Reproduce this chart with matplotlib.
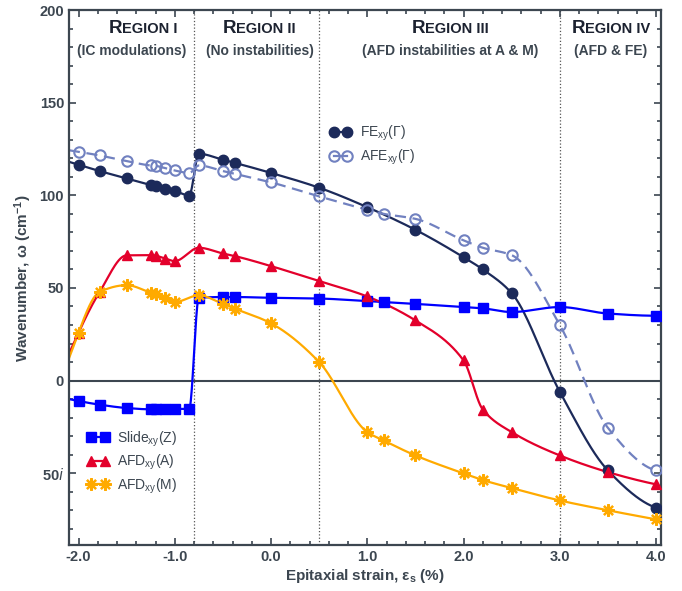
import numpy as np
import matplotlib
matplotlib.use("Agg")
import matplotlib.pyplot as plt
from matplotlib.lines import Line2D
from matplotlib.offsetbox import TextArea, HPacker, AnnotationBbox
from matplotlib.ticker import MultipleLocator, FixedLocator, FixedFormatter

plt.rcParams["font.family"] = ["Liberation Sans", "DejaVu Sans"]
plt.rcParams["mathtext.default"] = "regular"

# --- data (strain in %, wavenumber in cm^-1, negative = imaginary)
x_fe = [-2.0, -1.78, -1.5, -1.25, -1.2, -1.1, -1.0, -0.85,
        -0.75, -0.5, -0.375, 0.0, 0.5, 1.0, 1.5, 2.0, 2.2, 2.5, 3.0, 3.5, 4.0]
fe = [116.5, 113.1, 109.1, 105.5, 104.8, 103.5, 102.3, 99.9,
      122.4, 119.2, 117.5, 112.1, 104.1, 93.6, 81.4, 66.6, 60.0, 47.2, -6.0, -48.5, -68.6]

x_afe = [-2.0, -1.78, -1.5, -1.25, -1.2, -1.1, -1.0, -0.85,
         -0.75, -0.5, -0.375, 0.0, 0.5, 1.0, 1.17, 1.5, 2.0, 2.2, 2.5, 3.0, 3.5, 4.0]
afe = [123.5, 121.5, 118.5, 116.1, 115.9, 114.7, 113.4, 112.0,
       116.1, 113.1, 111.6, 107.0, 99.4, 92.2, 90.0, 87.3, 75.7, 71.7, 67.7, 30.0, -25.5, -48.5]

x_slide = [-2.0, -1.78, -1.5, -1.25, -1.2, -1.1, -1.0, -0.85,
           -0.75, -0.5, -0.375, 0.0, 0.5, 1.0, 1.17, 1.5, 2.0, 2.2, 2.5, 3.0, 3.5, 4.0]
slide = [-11.0, -13.0, -14.8, -15.5, -15.5, -15.5, -15.3, -15.3,
         44.7, 45.1, 45.1, 44.7, 44.3, 42.9, 42.4, 41.4, 39.7, 39.0, 37.0, 39.7, 36.2, 35.0]

x_afda = [-2.0, -1.78, -1.5, -1.25, -1.2, -1.1, -1.0,
          -0.75, -0.5, -0.375, 0.0, 0.5, 1.0, 1.5, 2.0, 2.2, 2.5, 3.0, 3.5, 4.0]
afda = [25.8, 47.9, 67.6, 67.7, 67.4, 65.9, 64.5,
        71.7, 68.6, 67.2, 61.8, 53.7, 45.4, 32.5, 10.9, -15.6, -27.8, -40.4, -49.4, -56.0]

x_afdm = [-2.0, -1.78, -1.5, -1.25, -1.2, -1.1, -1.0,
          -0.75, -0.5, -0.375, 0.0, 0.5, 1.0, 1.17, 1.5, 2.0, 2.2, 2.5, 3.0, 3.5, 4.0]
afdm = [25.8, 47.9, 51.5, 47.4, 46.5, 44.7, 42.4,
        46.0, 41.4, 38.8, 30.9, 10.0, -27.8, -32.3, -40.4, -50.1, -53.7, -58.0, -64.7, -70.0, -74.9]

region_bounds = [-0.8, 0.5, 3.0]
region_heads = [("I", -1.33), ("II", -0.12), ("III", 1.86), ("IV", 3.53)]
region_subs = [("(IC modulations)", -1.45), ("(No instabilities)", -0.12),
               ("(AFD instabilities at A & M)", 1.86), ("(AFD & FE)", 3.53)]

ytick_vals = [200, 150, 100, 50, 0, -50]
ytick_labels = ["200", "150", "100", "50", "0", "50$\\mathit{i}$"]


def pchip(x, y, xs):
    # monotone cubic interpolation, linear beyond the ends
    x = np.asarray(x, float)
    y = np.asarray(y, float)
    h = np.diff(x)
    d = np.diff(y) / h
    n = len(x)
    m = np.zeros(n)
    for k in range(1, n - 1):
        if d[k - 1] * d[k] > 0:
            w1 = 2 * h[k] + h[k - 1]
            w2 = h[k] + 2 * h[k - 1]
            m[k] = (w1 + w2) / (w1 / d[k - 1] + w2 / d[k])

    def end(h0, h1, d0, d1):
        mm = ((2 * h0 + h1) * d0 - h0 * d1) / (h0 + h1)
        if np.sign(mm) != np.sign(d0):
            mm = 0.0
        elif np.sign(d0) != np.sign(d1) and abs(mm) > abs(3 * d0):
            mm = 3 * d0
        return mm

    m[0] = end(h[0], h[1], d[0], d[1])
    m[-1] = end(h[-1], h[-2], d[-1], d[-2])
    xs = np.asarray(xs, float)
    i = np.clip(np.searchsorted(x, xs) - 1, 0, n - 2)
    t = (xs - x[i]) / h[i]
    out = ((2 * t**3 - 3 * t**2 + 1) * y[i] + (t**3 - 2 * t**2 + t) * h[i] * m[i]
           + (-2 * t**3 + 3 * t**2) * y[i + 1] + (t**3 - t**2) * h[i] * m[i + 1])
    lo = xs < x[0]
    out[lo] = y[0] + m[0] * (xs[lo] - x[0])
    hi = xs > x[-1]
    out[hi] = y[-1] + m[-1] * (xs[hi] - x[-1])
    return out


grey = "#3c4650"
fig = plt.figure(figsize=(6.82, 5.91), dpi=100)
ax = fig.add_axes([0.101, 0.077, 0.868, 0.906])
ax.set_xlim(-2.1, 4.05)
ax.set_ylim(-89, 200)

for xb in region_bounds:
    ax.axvline(xb, color="#555555", ls=":", lw=0.9, zorder=1)
ax.axhline(0, color=grey, lw=1.5, zorder=1)

xs = np.linspace(-2.1, 4.0, 1200)
series = [
    (x_fe, fe, "#1c2a5a", "o", dict(ms=7.5, mfc="#1c2a5a", mec="#1c2a5a"), "-", "FE$_{xy}$(Γ)"),
    (x_afe, afe, "#7181c0", "o", dict(ms=7.5, mfc="none", mec="#7181c0", mew=1.5), (0, (5, 3)), "AFE$_{xy}$(Γ)"),
    (x_slide, slide, "#0000ff", "s", dict(ms=6.5, mfc="#0000ff", mec="#0000ff"), "-", "Slide$_{xy}$(Z)"),
    (x_afda, afda, "#e3002b", "^", dict(ms=7.5, mfc="#e3002b", mec="#e3002b"), "-", "AFD$_{xy}$(A)"),
    (x_afdm, afdm, "#ffaa00", (8, 2, 0), dict(ms=9, mec="#ffaa00", mew=1.6), "-", "AFD$_{xy}$(M)"),
]
handles = []
for xv, yv, col, mk, mkw, ls, lab in series:
    ax.plot(xs, pchip(xv, yv, xs), color=col, lw=1.6, ls=ls, zorder=2)
    ax.plot(xv, yv, ls="none", marker=mk, zorder=3, **mkw)
    handles.append(Line2D([], [], color=col, lw=1.6, ls="-", marker=mk, label=lab, **mkw))

leg_kw = dict(frameon=False, numpoints=2, handlelength=1.6, handletextpad=0.6,
              labelspacing=0.3, borderpad=0, borderaxespad=0,
              prop={"size": 10}, labelcolor=grey, loc="upper left")
leg1 = ax.legend(handles=handles[:2], bbox_to_anchor=(0.44, 0.787), **leg_kw)
ax.add_artist(leg1)
ax.legend(handles=handles[2:], bbox_to_anchor=(0.03, 0.217), **leg_kw)

# region headers in small caps
for num, xc in region_heads:
    big = TextArea("R", textprops=dict(size=13.5, weight="bold", color="#1c2230"))
    small = TextArea("EGION " + num, textprops=dict(size=10.5, weight="bold", color="#1c2230"))
    box = HPacker(children=[big, small], align="baseline", pad=0, sep=0)
    ab = AnnotationBbox(box, (xc, 190), xycoords="data", frameon=False,
                        box_alignment=(0.5, 0.5))
    ax.add_artist(ab)
for txt, xc in region_subs:
    ax.text(xc, 178, txt, ha="center", va="center", size=10, weight="bold", color=grey)

ax.xaxis.set_major_locator(MultipleLocator(1.0))
ax.xaxis.set_minor_locator(MultipleLocator(0.2))
ax.xaxis.set_major_formatter(matplotlib.ticker.FormatStrFormatter("%.1f"))
ax.yaxis.set_major_locator(FixedLocator(ytick_vals))
ax.yaxis.set_major_formatter(FixedFormatter(ytick_labels))
ax.yaxis.set_minor_locator(MultipleLocator(10))
ax.tick_params(which="both", direction="in", top=True, right=True, color=grey,
               labelcolor=grey, width=1.2)
ax.tick_params(which="major", length=5, labelsize=10.5)
ax.tick_params(which="minor", length=3)
for lab in ax.get_xticklabels() + ax.get_yticklabels():
    lab.set_fontweight("bold")
for sp in ax.spines.values():
    sp.set_color(grey)
    sp.set_linewidth(1.6)

ax.set_xlabel("Epitaxial strain, ε$_s$ (%)", size=11, weight="bold", color=grey, labelpad=2)
ax.set_ylabel("Wavenumber, ω (cm$^{-1}$)", size=11, weight="bold", color=grey, labelpad=4)

fig.savefig("out.png", dpi=100)
